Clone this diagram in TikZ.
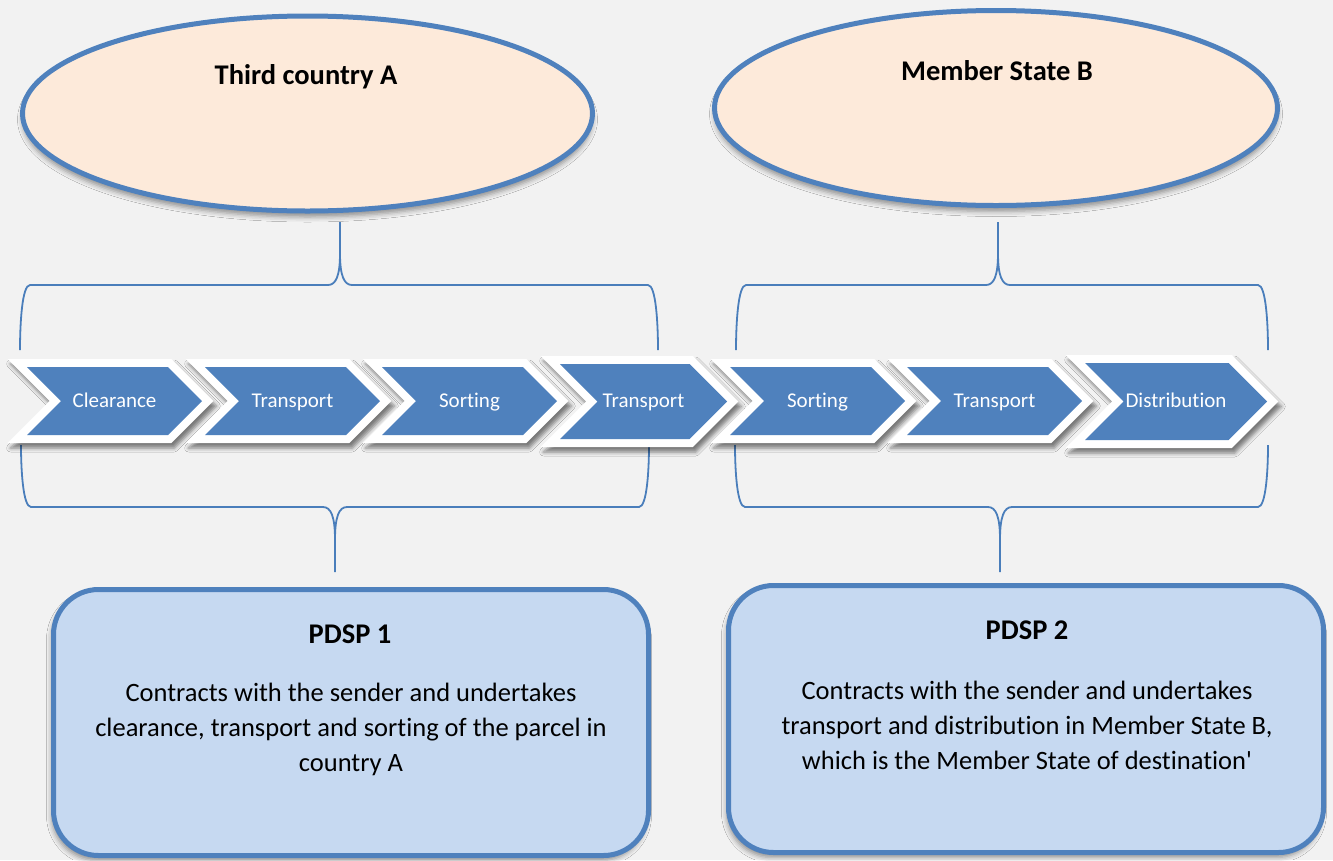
\documentclass[tikz,border=0pt]{standalone}
\usepackage{fontspec}
\setmainfont{Carlito}[Ligatures={TeXOff,CommonOff}]
\usetikzlibrary{shapes.geometric,shadows.blur}
\definecolor{bgc}{HTML}{F2F2F2}
\definecolor{chevblue}{HTML}{4F81BD}
\definecolor{lineblue}{HTML}{4F81BD}
\definecolor{braceblue}{HTML}{4A7EBB}
\definecolor{peach}{HTML}{FDEADA}
\definecolor{boxfill}{HTML}{C6D9F1}
\tikzset{
  bracestyle/.style={draw=braceblue, line width=1.8pt},
  chevshadow/.style={blur shadow={shadow xshift=3pt, shadow yshift=-5pt, shadow blur radius=4pt, shadow opacity=50}},
  chevtext/.style={text=white, font=\fontsize{21}{24}\selectfont, inner sep=0pt, anchor=base},
  country/.style={ellipse, draw=lineblue, line width=5pt, fill=peach, inner sep=0pt,
     blur shadow={shadow xshift=0pt, shadow yshift=-6pt, shadow blur radius=5pt, shadow opacity=40}},
  ctitle/.style={font=\bfseries\fontsize{28.5}{34}\selectfont, inner sep=0pt, anchor=base},
  pdspbox/.style={rectangle, rounded corners=45pt, draw=lineblue, line width=5pt, fill=boxfill, inner sep=0pt,
     blur shadow={shadow xshift=-2pt, shadow yshift=-5pt, shadow blur radius=5pt, shadow opacity=40}},
  ptitle/.style={font=\bfseries\fontsize{28.5}{34}\selectfont, inner sep=0pt, anchor=base},
  pbody/.style={font=\fontsize{26.5}{35}\selectfont, align=center, inner sep=0pt},
}
\newcommand{\chevron}[6]{%
  \pgfmathsetmacro\chD{(#5-#4)/2}%
  \pgfmathsetmacro\chM{(#5+#4)/2}%
  \fill[white, chevshadow] ({#2-19.3},{#4-8}) -- ({#3-\chD+3.3},{#4-8}) -- ({#3+11.3},\chM)
     -- ({#3-\chD+3.3},{#5+8}) -- ({#2-19.3},{#5+8}) -- ({#2+\chD-11.3},\chM) -- cycle;
  \fill[chevblue] (#2,#4) -- ({#3-\chD},#4) -- (#3,\chM) -- ({#3-\chD},#5) -- (#2,#5) -- ({#2+\chD},\chM) -- cycle;
  \node[chevtext] (#1) at ({(#2+#3)/2},407.5) {#6};
}
\newcommand{\brc}[6]{%
  \draw[bracestyle] (#1,#4) .. controls (#1,{#5+0.6*(#4-#5)}) and ({#1+2},#5) .. ({#1+10},#5)
     -- ({#3-12},#5) .. controls ({#3-4},#5) and (#3,{#5+0.15*(#6-#5)}) .. (#3,{#5+0.5*(#6-#5)}) -- (#3,#6);
  \draw[bracestyle] (#2,#4) .. controls (#2,{#5+0.6*(#4-#5)}) and ({#2-2},#5) .. ({#2-10},#5)
     -- ({#3+12},#5) .. controls ({#3+4},#5) and (#3,{#5+0.15*(#6-#5)}) .. (#3,{#5+0.5*(#6-#5)});
}
\begin{document}
\begin{tikzpicture}[x=1pt, y=-1pt]
  \fill[bgc] (0,0) rectangle (1333,860);
  \useasboundingbox (0,0) rectangle (1333,860);

  % ellipses
  \node[country, minimum width=570pt, minimum height=195pt] (ellA) at (307.5,113.5) {};
  \node[ctitle] (tA) at (306,84) {Third country A};
  \node[country, minimum width=563pt, minimum height=195pt] (ellB) at (996,108) {};
  \node[ctitle] (tB) at (997,80) {Member State B};

  % braces
  \brc{20}{658}{340}{350}{285}{222}
  \brc{736}{1268}{998}{350}{285}{222}
  \brc{21}{649}{335}{445}{507}{572}
  \brc{735}{1268}{1000}{445}{507}{572}

  % chevrons
  \chevron{c1}{27}{202}{367}{435}{Clearance}
  \chevron{c2}{205}{380}{367}{435}{Transport}
  \chevron{c3}{382}{557}{367}{435}{Sorting}
  \chevron{c4}{560}{727}{364}{439}{Transport}
  \chevron{c5}{730}{905}{367}{435}{Sorting}
  \chevron{c6}{907}{1082}{367}{435}{Transport}
  \chevron{c7}{1085}{1267}{363}{440}{Distribution}

  % boxes
  \node[pdspbox, minimum width=595pt, minimum height=266pt] (box1) at (351,722.5) {};
  \node[ptitle] (p1) at (350,643) {PDSP 1};
  \node[pbody] (b1) at (351,729) {Contracts with the sender and undertakes\\clearance, transport and sorting of the parcel in\\country A};
  \node[pdspbox, minimum width=595pt, minimum height=267pt] (box2) at (1026,719) {};
  \node[ptitle] (p2) at (1027,639) {PDSP 2};
  \node[pbody] (b2) at (1027,725) {Contracts with the sender and undertakes\\transport and distribution in Member State B,\\which is the Member State of destination'};
\end{tikzpicture}
\end{document}
